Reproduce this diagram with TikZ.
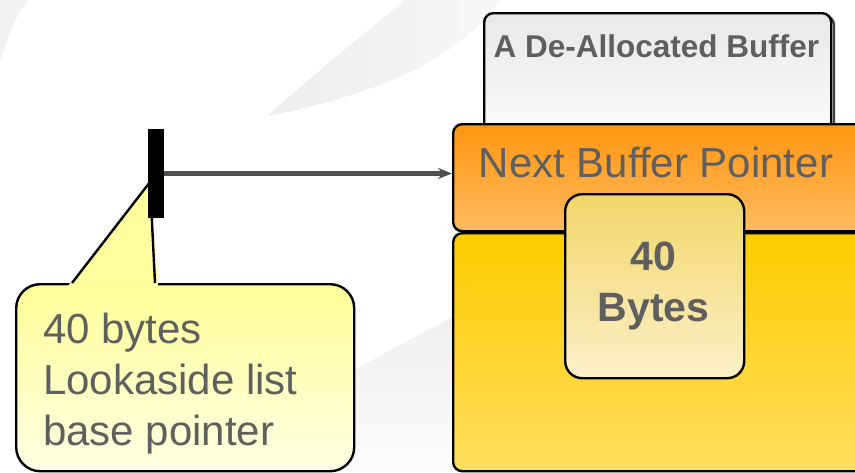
\documentclass[tikz,border=0pt]{standalone}
\usepackage{fontspec}
\setmainfont{Liberation Sans}
\usetikzlibrary{arrows.meta}
\definecolor{txtgray}{HTML}{5F5F5F}
\definecolor{arrowgray}{HTML}{505050}
\definecolor{bodytop}{HTML}{FFCC00}
\definecolor{bodybot}{HTML}{FFDE60}
\definecolor{nexttop}{HTML}{FF9610}
\definecolor{nextbot}{HTML}{FFBA60}
\definecolor{blocktop}{HTML}{F2D66A}
\definecolor{blockbot}{HTML}{FBF0C8}
\definecolor{calltop}{HTML}{FFFF99}
\definecolor{callbot}{HTML}{FFFFE4}
\definecolor{calltail}{HTML}{FFFFA0}
\tikzset{
  boxline/.style={draw=black, line width=2.4pt, rounded corners=9pt},
  bigtext/.style={text=txtgray, font=\fontsize{42}{51}\selectfont, inner sep=0pt},
  boldtext/.style={text=txtgray, font=\fontsize{41}{51}\selectfont\bfseries, inner sep=0pt},
  swoosh/.style={fill=black!5, draw=none},
}
\begin{document}
\begin{tikzpicture}[x=1pt,y=-1pt]
\useasboundingbox (0,0) rectangle (855,472);
\fill[white] (0,0) rectangle (855,472);

% faint background swooshes
\path[swoosh] (0,62) .. controls (8,35) and (16,15) .. (28,0) -- (0,0) -- cycle;
\path[swoosh, left color=black!7, right color=black!3]
  (268,116) .. controls (330,60) and (370,30) .. (405,0) -- (500,0)
  .. controls (470,40) and (420,85) .. cycle;
\path[swoosh, top color=black!6, bottom color=black!1]
  (268,430) .. controls (330,380) and (400,345) .. (452,318)
  -- (452,472) -- (300,472) .. controls (290,455) and (278,442) .. cycle;

% de-allocated buffer (with its drop shadow)
\path[boxline, draw=black!75] (487,16) rectangle (834,140);
\node[boxline, top color=black!9, bottom color=black!1, minimum width=347pt,
      minimum height=128pt, anchor=north west, inner sep=0pt] (dealloc) at (483,12) {};
\node[anchor=base, text=txtgray, font=\fontsize{31.5}{36}\selectfont\bfseries,
      inner sep=0pt] (dealloctext) at (656.5,57) {A De-Allocated Buffer};

% buffer body
\node[boxline, top color=bodytop, bottom color=bodybot, minimum width=430pt,
      minimum height=238pt, anchor=north west, inner sep=0pt] (body) at (452,232) {};
\node[boxline, top color=nexttop, bottom color=nextbot, minimum width=430pt,
      minimum height=107pt, anchor=north west, inner sep=0pt] (nextptr) at (452,123) {};
\node[bigtext, anchor=base] (nexttext) at (656,177) {Next Buffer Pointer};

% 40 bytes block
\node[boxline, rounded corners=17pt, top color=blocktop, bottom color=blockbot,
      minimum width=179pt, minimum height=184pt, anchor=north west, inner sep=0pt]
      (block) at (564,193) {};
\node[boldtext, anchor=base] (fortytext) at (653.5,270) {40};
\node[boldtext, anchor=base] (bytestext) at (653.5,321) {Bytes};

% callout
\node[boxline, rounded corners=24pt, top color=calltop, bottom color=callbot,
      minimum width=338pt, minimum height=187pt, anchor=north west, inner sep=0pt]
      (callout) at (15,283) {};
\coordinate (tail1) at (72,283);
\coordinate (tip) at (150,182);
\coordinate (tail2) at (155,283);
\path[fill=calltail] ([xshift=-4pt,yshift=-3pt]tail1) -- (tip) -- ([xshift=3pt,yshift=-3pt]tail2) -- cycle;
\draw[line width=2.4pt, line join=miter] (tail1) -- (tip) -- (tail2);
\node[bigtext, anchor=base west, align=left] (calltext) at (43,445)
  {40 bytes\\Lookaside list\\base pointer};

% base pointer and link to the buffer
\node[fill=black, minimum width=16pt, minimum height=89pt, inner sep=0pt,
      anchor=north west] (bar) at (148,129) {};
\draw[arrowgray, line width=4.5pt, -{Stealth[length=14pt,width=11pt]}]
  (bar.east |- 0,173.5) -- (nextptr.west |- 0,173.5);
\end{tikzpicture}
\end{document}
